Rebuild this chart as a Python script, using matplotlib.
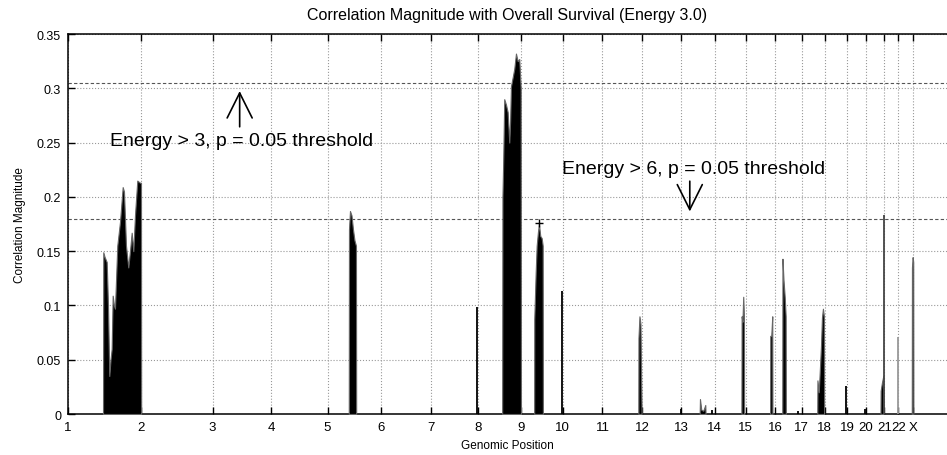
import numpy as np
import matplotlib.pyplot as plt

plt.rcParams['font.family'] = ['Liberation Sans', 'DejaVu Sans']

# chromosome start positions (Mb, cumulative) and labels
chrom_names = ['1', '2', '3', '4', '5', '6', '7', '8', '9', '10', '11', '12',
               '13', '14', '15', '16', '17', '18', '19', '20', '21', '22', 'X']
chrom_start = [0, 247, 490, 689, 880, 1061, 1232, 1391, 1537, 1677, 1812, 1946,
               2078, 2192, 2298, 2398, 2487, 2566, 2642, 2706, 2768, 2815, 2865]

# filled regions: genomic position (Mb) and correlation magnitude
chr1_x = [118.7, 119.7, 123.7, 131.2, 135.6, 140.0, 144.1, 148.1, 151.5, 155.9, 159.3,
          167.1, 176.3, 185.4, 189.8, 196.6, 204.4, 210.2, 215.9, 221.4, 227.1, 234.9,
          244.1, 247.5, 248.1]
chr1_y = [0, 0.149, 0.145, 0.140, 0.100, 0.035, 0.050, 0.060, 0.109, 0.100, 0.097,
          0.155, 0.177, 0.209, 0.205, 0.155, 0.135, 0.150, 0.167, 0.150, 0.183, 0.215,
          0.213, 0.213, 0]

chr5_x = [951.9, 952.6, 956.0, 961.1, 966.2, 971.2, 976.3, 977.0]
chr5_y = [0, 0.170, 0.187, 0.183, 0.170, 0.160, 0.155, 0]

chr9a_x = [1471.9, 1472.9, 1475.6, 1479.0, 1484.8, 1490.6, 1496.0, 1499.0, 1501.8,
           1507.5, 1513.0, 1518.7, 1524.5, 1529.9, 1534.7, 1535.7]
chr9a_y = [0, 0.200, 0.235, 0.290, 0.285, 0.278, 0.250, 0.270, 0.302,
           0.310, 0.318, 0.332, 0.325, 0.327, 0.300, 0]

chr9b_x = [1580.4, 1580.8, 1585.5, 1588.9, 1593.3, 1596.7, 1601.1, 1605.9, 1609.3, 1610.0]
chr9b_y = [0, 0.0875, 0.130, 0.155, 0.168, 0.175, 0.164, 0.162, 0.155, 0]

chr12_x = [1933.5, 1934.0, 1937.4, 1940.8, 1944.2, 1944.6]
chr12_y = [0, 0.070, 0.090, 0.083, 0.010, 0]

chr13_x = [2141.5, 2142.5, 2146.9, 2153.7, 2160.5, 2161.5]
chr13_y = [0, 0.0138, 0.004, 0.003, 0.0083, 0]

chr15_x = [2283.0, 2283.8, 2286.5, 2289.2, 2291.6, 2292.2]
chr15_y = [0, 0.090, 0.085, 0.108, 0.090, 0]

chr16a_x = [2380.2, 2380.8, 2384.2, 2387.6, 2388.2]
chr16a_y = [0, 0.072, 0.072, 0.090, 0]

chr16b_x = [2421.6, 2422.2, 2425.6, 2430.0, 2433.0, 2433.6]
chr16b_y = [0, 0.143, 0.124, 0.107, 0.090, 0]

chr18_x = [2540.2, 2540.8, 2545.2, 2549.3, 2552.7, 2556.1, 2559.4, 2562.8, 2563.4]
chr18_y = [0, 0.031, 0.020, 0.043, 0.062, 0.089, 0.097, 0.090, 0]

chr21_x = [2754.5, 2755.1, 2759.5, 2763.9, 2764.5]
chr21_y = [0, 0.0215, 0.029, 0.035, 0]

chrX_x = [2860.6, 2861.2, 2863.5, 2865.5, 2866.1]
chrX_y = [0, 0.135, 0.1445, 0.140, 0]

# single-probe spikes
spike_x = [1387.5, 1673.6, 2078.1, 2183.2, 2473.5, 2637.4, 2701.8, 2767.3, 2812.7]
spike_y = [0.0985, 0.1136, 0.0046, 0.004, 0.003, 0.026, 0.0046, 0.183, 0.071]
spike_c = ['black', 'black', 'black', 'black', 'black', 'black', 'black', '#444444', '#999999']

peak_marker = (1596.7, 0.176)

thresh_e3 = 0.305
thresh_e6 = 0.18

fig = plt.figure(figsize=(9.47, 4.56), dpi=100)
ax = fig.add_axes([0.0718, 0.0899, 0.9282, 0.8333])

regions = [(chr1_x, chr1_y), (chr5_x, chr5_y), (chr9a_x, chr9a_y), (chr9b_x, chr9b_y),
           (chr12_x, chr12_y), (chr13_x, chr13_y), (chr15_x, chr15_y),
           (chr16a_x, chr16a_y), (chr16b_x, chr16b_y), (chr18_x, chr18_y),
           (chr21_x, chr21_y), (chrX_x, chrX_y)]
for rx, ry in regions:
    ax.fill_between(rx, ry, 0, color='black', linewidth=0.8, edgecolor='#666666', zorder=3)

ax.vlines(spike_x, 0, spike_y, colors=spike_c, linewidth=1.3, zorder=3)
ax.plot(*peak_marker, marker='+', color='black', markersize=6, mew=1.0, zorder=4)

ax.axhline(thresh_e3, color='#555555', linestyle=(0, (3, 2)), linewidth=0.8, zorder=2)
ax.axhline(thresh_e6, color='#555555', linestyle=(0, (3, 2)), linewidth=0.8, zorder=2)

ax.set_xlim(0, 2980)
ax.set_ylim(0, 0.35)
ax.set_xticks(chrom_start)
ax.set_xticklabels(chrom_names, fontsize=9.5)
yt = [0, 0.05, 0.1, 0.15, 0.2, 0.25, 0.3, 0.35]
ax.set_yticks(yt)
ax.set_yticklabels(['0', '0.05', '0.1', '0.15', '0.2', '0.25', '0.3', '0.35'], fontsize=9)
ax.tick_params(direction='in', top=True, right=False, length=5, width=1, pad=5)
ax.grid(True, linestyle=':', color='#999999', linewidth=0.8, zorder=1)
ax.spines['right'].set_visible(False)
for s in ['left', 'bottom', 'top']:
    ax.spines[s].set_linewidth(1.1)

ax.set_title('Correlation Magnitude with Overall Survival (Energy 3.0)', fontsize=11.5, pad=11)
ax.set_xlabel('Genomic Position', fontsize=8.5, labelpad=4)
ax.set_ylabel('Correlation Magnitude', fontsize=8.5, labelpad=8)

ax.annotate('', xy=(582, 0.300), xytext=(582, 0.262),
            arrowprops=dict(arrowstyle='->,head_length=0.9,head_width=0.45',
                            lw=1.2, color='black', mutation_scale=20))
ax.text(142, 0.252, 'Energy > 3, p = 0.05 threshold', fontsize=14, va='center', ha='left')

ax.annotate('', xy=(2108, 0.184), xytext=(2108, 0.217),
            arrowprops=dict(arrowstyle='->,head_length=0.9,head_width=0.45',
                            lw=1.2, color='black', mutation_scale=20))
ax.text(1676, 0.226, 'Energy > 6, p = 0.05 threshold', fontsize=14, va='center', ha='left')

fig.savefig('out.png', dpi=100)
